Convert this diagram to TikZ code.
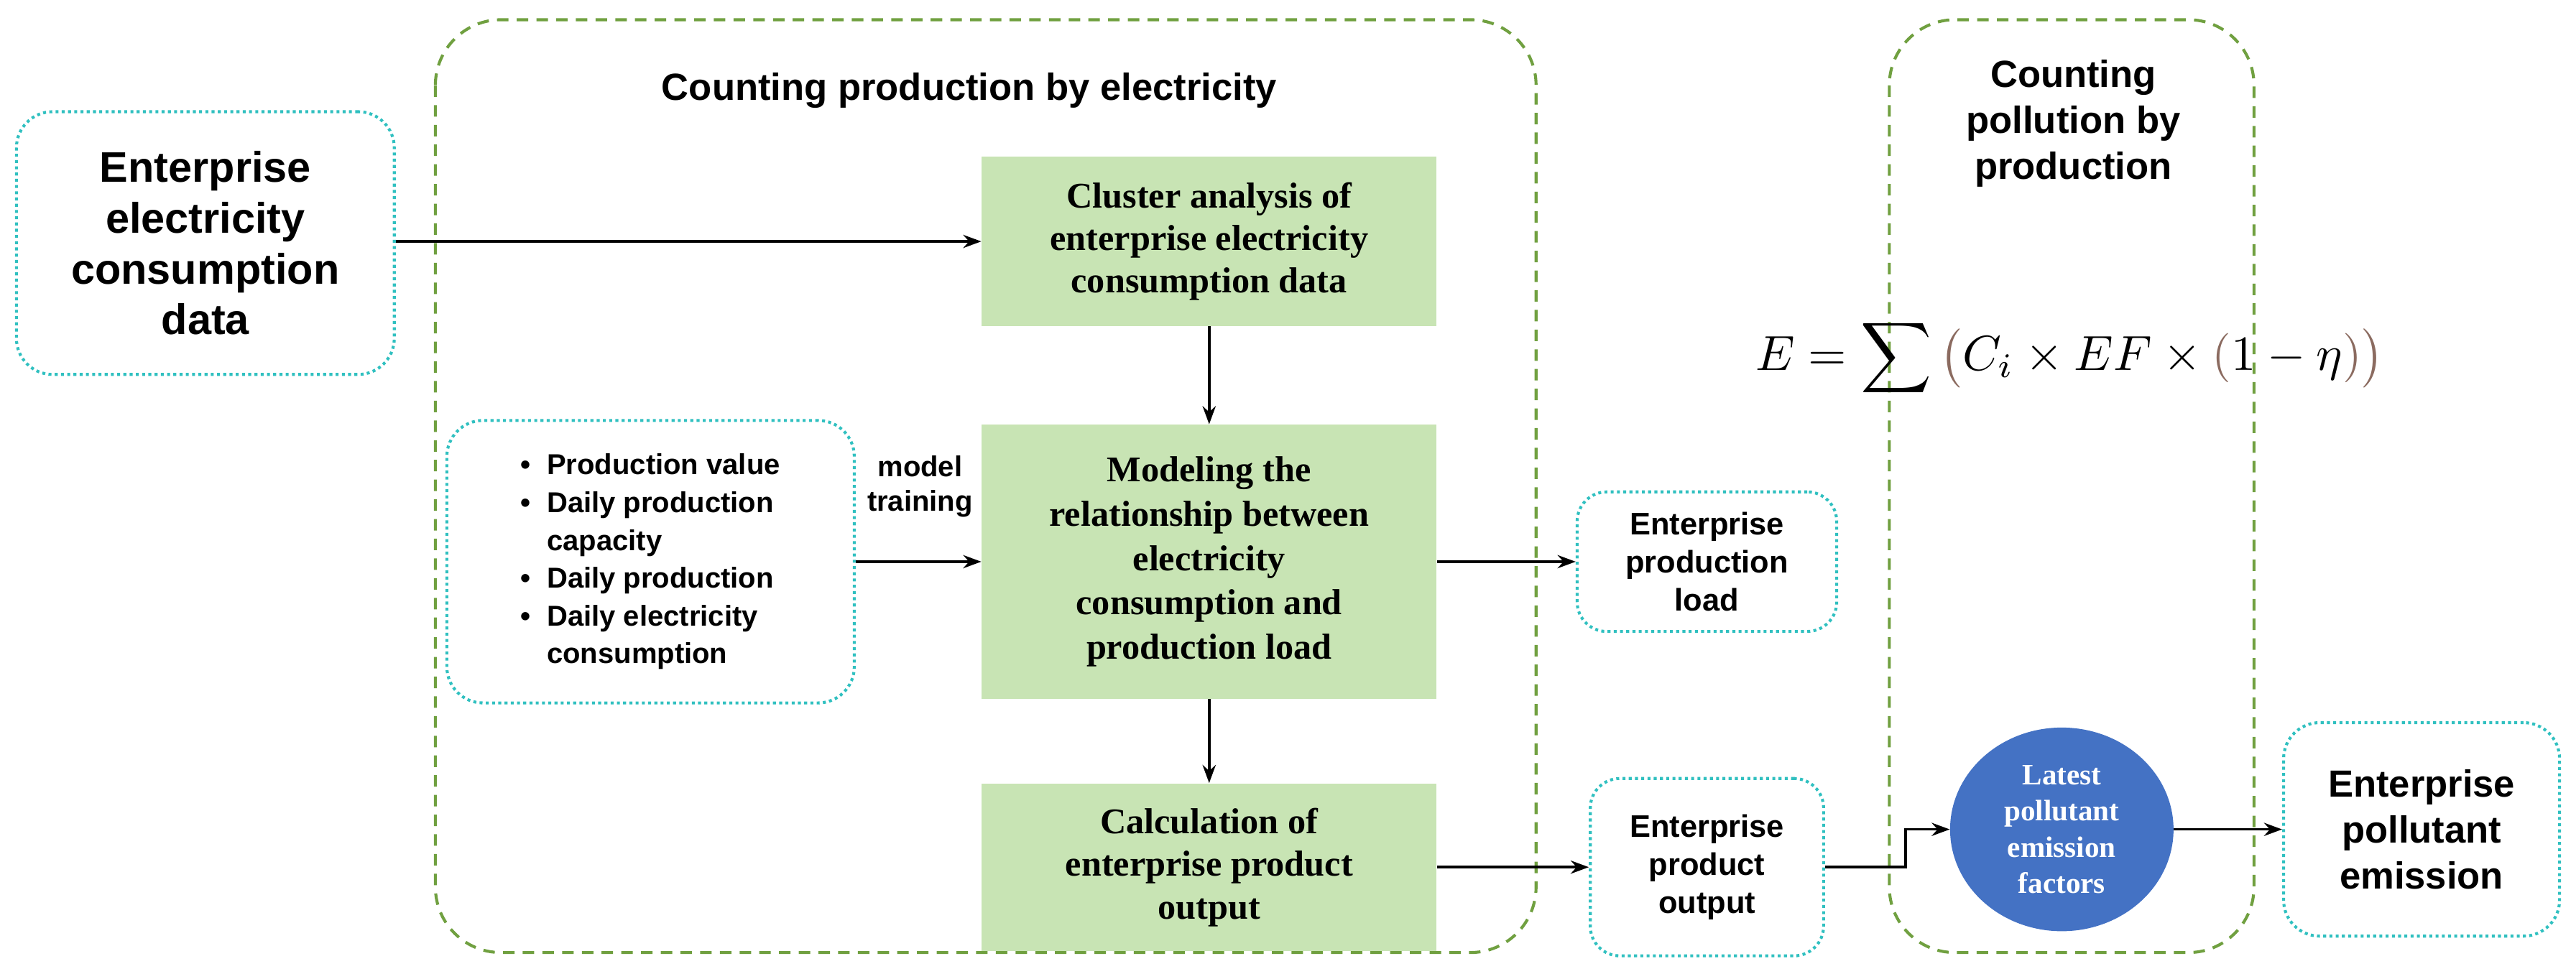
\documentclass[tikz,border=0pt]{standalone}
\usepackage{fontspec}
\usepackage{graphicx}
\setmainfont{Liberation Serif}
\newfontfamily\sans{Liberation Sans}
\usetikzlibrary{arrows.meta,shapes.geometric}
\definecolor{dgreen}{HTML}{70A040}
\definecolor{cyanc}{HTML}{30C0C0}
\definecolor{lgreen}{HTML}{C8E4B4}
\definecolor{eblue}{HTML}{4472C4}
\definecolor{brn}{HTML}{8B6B60}
\begin{document}
\begin{tikzpicture}[x=1pt,y=-1pt,
  dot/.style={draw=cyanc,line width=1.8pt,dotted,rounded corners=22pt,align=center,font=\sans\bfseries},
  gbox/.style={fill=lgreen,align=center,font=\bfseries,inner sep=0pt},
  gdash/.style={draw=dgreen,line width=1.8pt,dash pattern=on 7pt off 5pt,rounded corners=40pt},
  arr/.style={-{Stealth[length=11pt,width=8pt]},line width=1.6pt}]
\useasboundingbox (0,0) rectangle (1568,590);
\draw[gdash] (265,12) rectangle (935,580);
\draw[gdash] (1150,12) rectangle (1372,580);
\node[font=\sans\bfseries\fontsize{23}{28}\selectfont] (t1) at (590,55) {Counting production by electricity};
\node[font=\sans\bfseries\fontsize{23}{28}\selectfont,align=center] (t2) at (1262,75) {Counting\\pollution by\\production};
\node[dot,minimum width=230pt,minimum height=160pt,font=\sans\bfseries\fontsize{26}{31}\selectfont] (src) at (125,148) {Enterprise\\electricity\\consumption\\data};
\node[gbox,minimum width=277pt,minimum height=103pt,font=\bfseries\fontsize{22}{26}\selectfont] (b1) at (736,147) {Cluster analysis of\\enterprise electricity\\consumption data};
\node[gbox,minimum width=277pt,minimum height=167pt,font=\bfseries\fontsize{22}{27}\selectfont] (b2) at (736,342) {Modeling the\\relationship between\\electricity\\consumption and\\production load};
\node[gbox,minimum width=277pt,minimum height=102pt,font=\bfseries\fontsize{22}{26}\selectfont] (b3) at (736,528) {Calculation of\\enterprise product\\output};
\node[dot,minimum width=248pt,minimum height=172pt,align=left,font=\sans\bfseries\fontsize{17.5}{23}\selectfont] (inp) at (396,342) {\textbullet\ \ Production value\\\textbullet\ \ Daily production\\\phantom{\textbullet\ \ }capacity\\\textbullet\ \ Daily production\\\textbullet\ \ Daily electricity\\\phantom{\textbullet\ \ }consumption};
\node[font=\sans\bfseries\fontsize{17.5}{21}\selectfont,align=center] (mt) at (560,296) {model\\training};
\node[dot,minimum width=158pt,minimum height=85pt,rounded corners=18pt,font=\sans\bfseries\fontsize{19}{23}\selectfont] (pl) at (1039,342) {Enterprise\\production\\load};
\node[dot,minimum width=142pt,minimum height=108pt,rounded corners=18pt,font=\sans\bfseries\fontsize{19}{23}\selectfont] (po) at (1039,528) {Enterprise\\product\\output};
\node[ellipse,fill=eblue,minimum width=136pt,minimum height=124pt,inner sep=0pt,align=center,text=white,font=\bfseries\fontsize{18}{22}\selectfont] (ef) at (1255,505) {Latest\\pollutant\\emission\\factors};
\node[dot,minimum width=168pt,minimum height=130pt,font=\sans\bfseries\fontsize{23}{28}\selectfont] (pe) at (1474,505) {Enterprise\\pollutant\\emission};
\node (fm) at (1260,218) {\scalebox{3}{$E=\displaystyle\sum\textcolor{brn}{\big(}C_i\times EF\times\textcolor{brn}{(}1-\eta\textcolor{brn}{)}\textcolor{brn}{\big)}$}};
\draw[arr] (src.east |- b1.west) -- (b1.west);
\draw[arr] (b1) -- (b2);
\draw[arr] (b2) -- (b3);
\draw[arr] (inp.east) -- (b2.west);
\draw[arr] (b2.east) -- (pl.west);
\draw[arr] (b3.east) -- (po.west);
\coordinate (k) at (1160,524);
\draw[arr] (po.east) -- (po.east -| k) |- (ef.west);
\draw[arr] (ef.east) -- (pe.west);
\end{tikzpicture}
\end{document}
